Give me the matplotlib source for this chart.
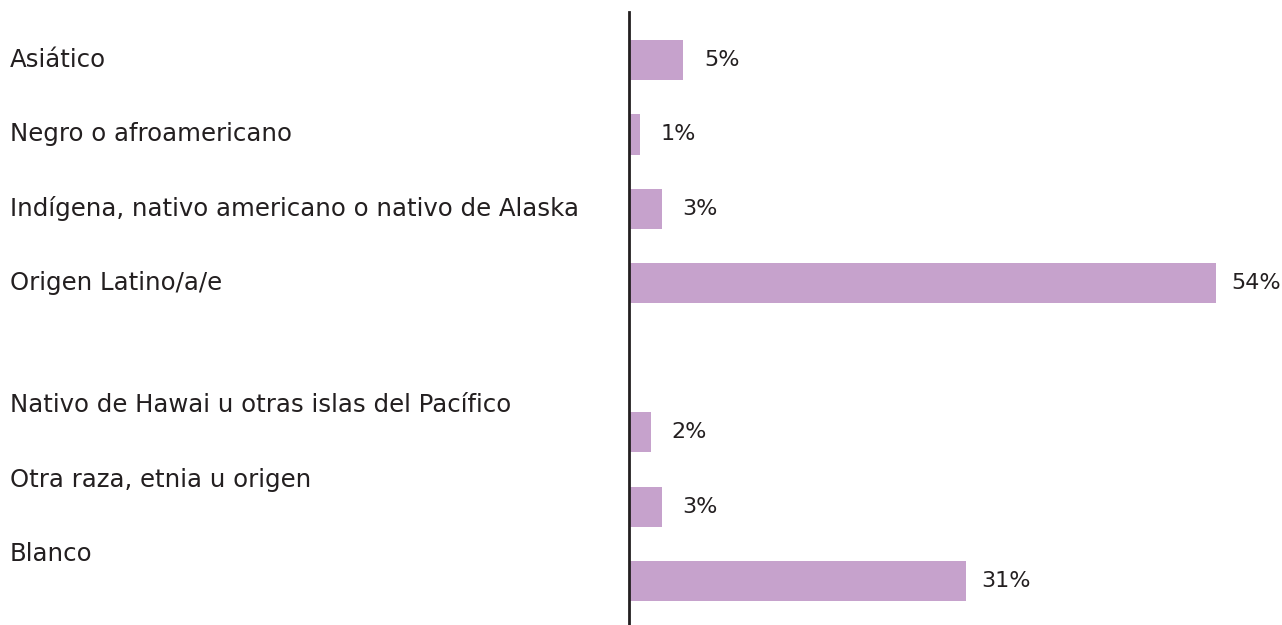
import matplotlib
matplotlib.use("Agg")
import matplotlib.pyplot as plt
import matplotlib.transforms as mtransforms

# Data
categories = [
    "Asiático",
    "Negro o afroamericano",
    "Indígena, nativo americano o nativo de Alaska",
    "Origen Latino/a/e",
    "Nativo de Hawai u otras islas del Pacífico",
    "Otra raza, etnia u origen",
    "Blanco",
]
values = [5, 1, 3, 54, 2, 3, 31]
value_labels = ["5%", "1%", "3%", "54%", "2%", "3%", "31%"]
slots = [0, 1, 2, 3, 5, 6, 7]

bar_color = "#C6A2CC"
text_color = "#231F20"
font = "DejaVu Sans"
fs_cat = 17.6
fs_val = 16

W, H = 1282, 625
fig = plt.figure(figsize=(W / 100, H / 100), dpi=100)
ax = fig.add_axes([629 / W, 0, 1 - 629 / W, 1 - 12 / H])

ax.barh(slots, values, height=0.54, color=bar_color, left=0)
ax.set_xlim(0, (W - 629) / 10.87)
ax.set_ylim(7.59, -0.645)

for s in ["top", "right", "bottom"]:
    ax.spines[s].set_visible(False)
ax.spines["left"].set_color(text_color)
ax.spines["left"].set_linewidth(2)
ax.set_xticks([])
ax.set_yticks([])

# value labels (wider labels sit a little closer to the bar end)
for s, v, lab in zip(slots, values, value_labels):
    off = 15 if len(lab) > 2 else 21
    ax.annotate(lab, (v, s), xytext=(off * 0.72, 0), textcoords="offset points",
                va="center", ha="left", fontsize=fs_val, color=text_color,
                family=font)

# category labels (lower group sits a bit above its bars)
trans = mtransforms.blended_transform_factory(fig.transFigure, ax.transData)
for i, (s, cat) in enumerate(zip(slots, categories)):
    y = s if i < 4 else s - 0.36
    fig.text(10 / W, y, cat, transform=trans, va="center", ha="left",
             fontsize=fs_cat, color=text_color, family=font)

fig.savefig("out.png", dpi=100)
